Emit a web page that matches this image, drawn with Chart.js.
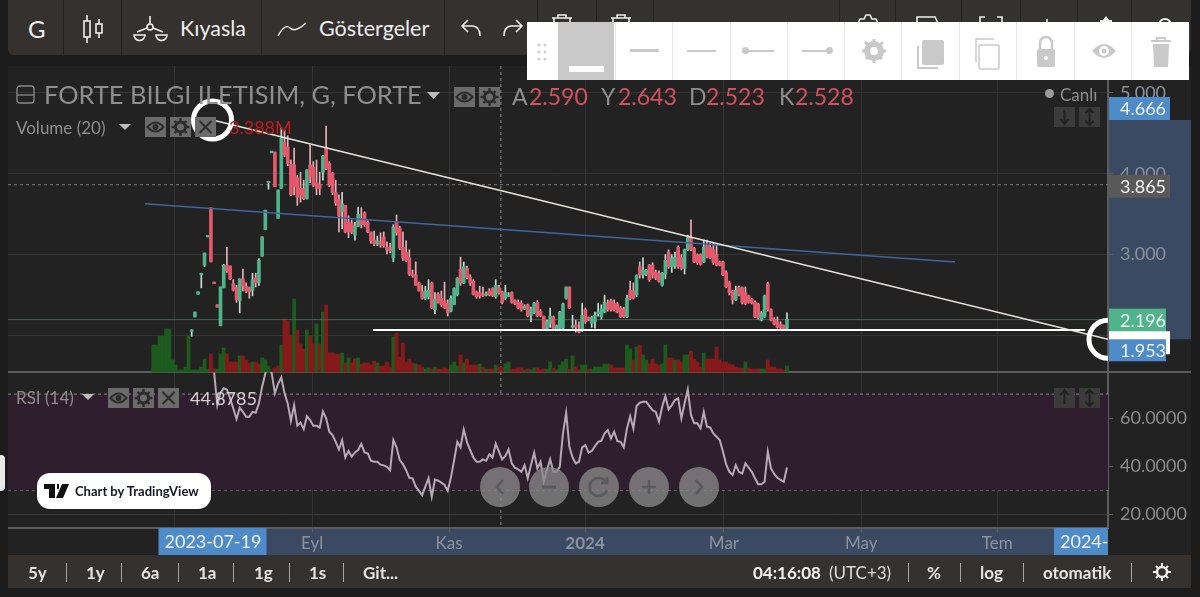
<!DOCTYPE html>
<html>
<head>
<meta charset="utf-8">
<title>FORTE</title>
<script src="https://cdn.jsdelivr.net/npm/chart.js@4"></script>
<style>
    html, body { margin: 0; padding: 0; background: #1c1b1b; overflow: hidden; }
    #wrap { position: relative; width: 1200px; height: 597px; font-family: Lato, sans-serif; }
    #chart { position: absolute; left: 0; top: 0; }
    #overlay { position: absolute; left: 0; top: 0; width: 1200px; height: 597px; pointer-events: none; }
    .t { position: absolute; white-space: nowrap; line-height: 1; transform: translateY(-50%); }
    .box { position: absolute; }
    .btn { position: absolute; width: 21px; height: 20px; background: #6b6b6b; }
    .btn svg, .nav svg, .cell svg { position: absolute; left: 0; top: 0; width: 100%; height: 100%; }
    .nav { position: absolute; width: 40px; height: 40px; margin: -20px 0 0 -20px; border-radius: 50%; background: rgba(136,136,136,.78); }
    .cell { position: absolute; top: 22px; height: 58px; border-left: 1px solid #e6e6e6; }
    .sep { position: absolute; top: 563px; width: 1px; height: 19px; background: #a8a6a4; }
    .tb { position: absolute; top: 0; height: 55px; border-right: 1px solid #242220; }
</style>
</head>
<body>
<div id="wrap">
    <canvas id="chart" width="1200" height="597"></canvas>
    <div id="overlay">
        <svg width="0" height="0" style="position:absolute">
            <symbol id="eye" viewBox="0 0 20 20"><path d="M2 10q8-9 16 0q-8 9-16 0z" fill="none" stroke="#2c2c2c" stroke-width="2"/><circle cx="10" cy="10" r="3" fill="#2c2c2c"/></symbol>
            <symbol id="gear" viewBox="0 0 20 20"><circle cx="10" cy="10" r="5" fill="none" stroke="#2c2c2c" stroke-width="3"/><path d="M10 1v4M10 15v4M1 10h4M15 10h4M4 4l3 3M13 13l3 3M16 4l-3 3M7 13l-3 3" stroke="#2c2c2c" stroke-width="2.4"/></symbol>
            <symbol id="cross" viewBox="0 0 20 20"><path d="M4 4l12 12M16 4L4 16" stroke="#2c2c2c" stroke-width="2"/></symbol>
        </svg>

        <!-- top toolbar -->
        <div class="box" style="left:8px;top:0;width:1183px;height:55px;background:#35312f;border-radius:0 0 6px 6px"></div>
        <div class="tb" style="left:8px;width:55px"></div>
        <div class="tb" style="left:64px;width:57px"></div>
        <div class="tb" style="left:122px;width:139px"></div>
        <div class="tb" style="left:262px;width:182px"></div>
        <div class="tb" style="left:445px;width:92px"></div>
        <div class="tb" style="left:538px;width:58px"></div>
        <div class="tb" style="left:597px;width:56px"></div>
        <div class="tb" style="left:654px;width:185px"></div>
        <div class="tb" style="left:840px;width:55px"></div>
        <div class="tb" style="left:896px;width:65px"></div>
        <div class="tb" style="left:962px;width:58px"></div>
        <div class="tb" style="left:1021px;width:56px"></div>
        <div class="tb" style="left:1078px;width:53px"></div>
        <span class="t" style="left:28px;top:29px;font-size:24px;color:#f0f0f0">G</span>
        <svg class="box" style="left:80px;top:14px" width="26" height="30" fill="none" stroke="#eee" stroke-width="1.6"><rect x="4" y="7" width="6" height="16"/><path d="M7 1v6M7 23v6"/><rect x="16" y="10" width="6" height="9"/><path d="M19 5v5M19 19v5"/></svg>
        <svg class="box" style="left:133px;top:14px" width="36" height="30" fill="none" stroke="#eee" stroke-width="1.6"><circle cx="17" cy="13" r="3"/><path d="M17 2v8M4 18l10-4M30 18l-10-4M1 21a5.500 5.500 0 0 0 11 0zM23 21a5.500 5.500 0 0 0 11 0z"/></svg>
        <span class="t" style="left:180px;top:29px;font-size:21.5px;color:#eeeeee">Kıyasla</span>
        <svg class="box" style="left:277px;top:20px" width="30" height="18" fill="none" stroke="#eee" stroke-width="1.4"><path d="M1 16Q8 3 13 8T29 3"/></svg>
        <span class="t" style="left:319px;top:29px;font-size:21.5px;color:#eeeeee">Göstergeler</span>
        <svg class="box" style="left:460px;top:18px" width="22" height="20" fill="none" stroke="#eee" stroke-width="1.6"><path d="M8 2L2 8l6 6M2 8h11q7 1 7 10"/></svg>
        <svg class="box" style="left:502px;top:18px" width="22" height="20" fill="none" stroke="#eee" stroke-width="1.6"><path d="M14 2l6 6-6 6M20 8H9q-7 1-7 10"/></svg>
        <svg class="box" style="left:551px;top:13px" width="22" height="12" fill="none" stroke="#eee" stroke-width="1.6"><path d="M1 5h20M7 5V2h8v3M3 5v7M19 5v7"/></svg>
        <svg class="box" style="left:610px;top:13px" width="22" height="12" fill="none" stroke="#eee" stroke-width="1.6"><path d="M1 5h20M7 5V2h8v3M3 5v7M19 5v7"/></svg>
        <svg class="box" style="left:855px;top:13px" width="26" height="12" fill="none" stroke="#eee" stroke-width="1.6"><path d="M2 12l3-6h4l2-4h4l2 4h4l3 6"/></svg>
        <svg class="box" style="left:915px;top:16px" width="26" height="9" fill="none" stroke="#eee" stroke-width="1.6"><path d="M2 9V1h18l4 8"/></svg>
        <svg class="box" style="left:978px;top:16px" width="26" height="9" fill="none" stroke="#eee" stroke-width="1.6"><path d="M2 9V1h5M19 1h5v8"/></svg>
        <svg class="box" style="left:1044px;top:19px" width="6" height="6" fill="none" stroke="#eee" stroke-width="1.6"><path d="M3 0v6"/></svg>
        <svg class="box" style="left:1098px;top:16px" width="16" height="9" fill="#eee"><path d="M8 0l3 4h3v5H2V4h3z"/></svg>
        <svg class="box" style="left:1157px;top:16px" width="16" height="9" fill="none" stroke="#eee" stroke-width="2"><path d="M2 9a6 6 0 0 1 12 0"/></svg>

        <!-- drawing toolbar -->
        <div class="box" style="left:527px;top:22px;width:662px;height:58px;background:#fff"></div>
        <svg class="box" style="left:537px;top:42px" width="10" height="20" fill="#cfcfcf"><circle cx="2" cy="3" r="1.500"/><circle cx="8" cy="3" r="1.500"/><circle cx="2" cy="10" r="1.500"/><circle cx="8" cy="10" r="1.500"/><circle cx="2" cy="17" r="1.500"/><circle cx="8" cy="17" r="1.500"/></svg>
        <div class="box" style="left:558px;top:22px;width:56px;height:58px;background:#c9c9c9"></div>
        <div class="box" style="left:569px;top:66px;width:35px;height:6px;background:#fff"></div>
        <div class="cell" style="left:615px;width:57px"><div class="box" style="left:14px;top:27px;width:29px;height:3px;background:#c9c9c9"></div></div>
        <div class="cell" style="left:672px;width:57px"><div class="box" style="left:14px;top:28px;width:29px;height:2px;background:#c9c9c9"></div></div>
        <div class="cell" style="left:730px;width:57px"><div class="box" style="left:14px;top:28px;width:29px;height:2px;background:#c9c9c9"></div><div class="box" style="left:11px;top:25px;width:7px;height:7px;background:#c9c9c9;border-radius:50%"></div></div>
        <div class="cell" style="left:787px;width:57px"><div class="box" style="left:14px;top:28px;width:29px;height:2px;background:#c9c9c9"></div><div class="box" style="left:38px;top:25px;width:7px;height:7px;background:#c9c9c9;border-radius:50%"></div></div>
        <div class="cell" style="left:844px;width:57px"><svg viewBox="0 0 57 58" fill="none" stroke="#c9c9c9"><circle cx="29" cy="29" r="7" stroke-width="6"/><path d="M29 17v24M17 29h24M20 20l18 18M38 20L20 38" stroke-width="3" stroke-dasharray="4 16"/></svg></div>
        <div class="cell" style="left:901px;width:58px"><svg viewBox="0 0 58 58"><rect x="20" y="18" width="22" height="25" rx="2" fill="#c9c9c9"/><path d="M16 24v22h20" fill="none" stroke="#c9c9c9" stroke-width="2"/></svg></div>
        <div class="cell" style="left:959px;width:57px"><svg viewBox="0 0 57 58" fill="none" stroke="#c9c9c9" stroke-width="1.500"><rect x="19" y="23" width="20" height="24" rx="1"/><path d="M16 40V17h18"/></svg></div>
        <div class="cell" style="left:1016px;width:58px"><svg viewBox="0 0 58 58"><path d="M23 27v-6a6 6 0 0 1 12 0v6" fill="none" stroke="#c9c9c9" stroke-width="2.500"/><rect x="20" y="27" width="18" height="18" rx="2" fill="#c9c9c9"/><circle cx="29" cy="36" r="2" fill="#fff"/></svg></div>
        <div class="cell" style="left:1074px;width:57px"><svg viewBox="0 0 57 58"><path d="M17 29q12-14 24 0q-12 14-24 0z" fill="#c9c9c9"/><circle cx="29" cy="29" r="5" fill="#fff"/><circle cx="29" cy="29" r="2.500" fill="#c9c9c9"/></svg></div>
        <div class="cell" style="left:1131px;width:57px"><svg viewBox="0 0 57 58"><path d="M19 19h20M25 19v-3h8v3" fill="none" stroke="#c9c9c9" stroke-width="2"/><path d="M21 22h16l-1 23H22z" fill="#c9c9c9"/></svg></div>

        <!-- main legend -->
        <svg class="box" style="left:16px;top:85px" width="20" height="19" fill="none" stroke="#8a8a8a" stroke-width="1.300"><rect x="1" y="1" width="17" height="17" rx="3"/><path d="M1 10h17"/></svg>
        <span class="t" style="left:44px;top:95px;font-size:25.4px;color:#8e8e8e">FORTE BILGI ILETISIM, G, FORTE</span>
        <svg class="box" style="left:427px;top:92px" width="13" height="7"><path d="M0 0h13L6.500 7z" fill="#bdbdbd"/></svg>
        <div class="btn" style="left:454px;top:87px"><svg><use href="#eye"/></svg></div>
        <div class="btn" style="left:479px;top:87px"><svg><use href="#gear"/></svg></div>
        <span class="t" style="left:512px;top:96px;font-size:23px;color:#8e8e8e">A</span>
        <span class="t" style="left:529px;top:96px;font-size:23px;color:#d3505f">2.590</span>
        <span class="t" style="left:601px;top:96px;font-size:23px;color:#8e8e8e">Y</span>
        <span class="t" style="left:618px;top:96px;font-size:23px;color:#d3505f">2.643</span>
        <span class="t" style="left:689px;top:96px;font-size:23px;color:#8e8e8e">D</span>
        <span class="t" style="left:706px;top:96px;font-size:23px;color:#d3505f">2.523</span>
        <span class="t" style="left:779px;top:96px;font-size:23px;color:#8e8e8e">K</span>
        <span class="t" style="left:795px;top:96px;font-size:23px;color:#d3505f">2.528</span>
        <div class="box" style="left:1045px;top:89px;width:9px;height:9px;border-radius:50%;background:#9a9a9a"></div>
        <span class="t" style="left:1060px;top:94px;font-size:17px;color:#8e8e8e">Canlı</span>
        <div class="btn" style="left:1054px;top:107px;background:#3b3b3b"><svg viewBox="0 0 20 20"><path d="M10 3v13M6 12l4 5 4-5" fill="none" stroke="#222" stroke-width="2"/></svg></div>
        <div class="btn" style="left:1079px;top:107px;background:#3b3b3b"><svg viewBox="0 0 20 20"><path d="M10 2v16M6 6l4-4 4 4M6 14l4 4 4-4" fill="none" stroke="#222" stroke-width="2"/></svg></div>

        <!-- volume legend -->
        <span class="t" style="left:16px;top:127px;font-size:17px;color:#8e8e8e">Volume (20)</span>
        <svg class="box" style="left:119px;top:124px" width="12" height="6"><path d="M0 0h12L6 6z" fill="#bdbdbd"/></svg>
        <div class="btn" style="left:145px;top:117px"><svg><use href="#eye"/></svg></div>
        <div class="btn" style="left:170px;top:117px"><svg><use href="#gear"/></svg></div>
        <div class="btn" style="left:195px;top:117px"><svg><use href="#cross"/></svg></div>
        <span class="t" style="left:229px;top:127px;font-size:18px;color:#c01a1a">3.388M</span>

        <!-- RSI legend -->
        <span class="t" style="left:16px;top:397px;font-size:17px;color:#8e8e8e">RSI (14)</span>
        <svg class="box" style="left:82px;top:394px" width="12" height="6"><path d="M0 0h12L6 6z" fill="#bdbdbd"/></svg>
        <div class="btn" style="left:108px;top:388px"><svg><use href="#eye"/></svg></div>
        <div class="btn" style="left:133px;top:388px"><svg><use href="#gear"/></svg></div>
        <div class="btn" style="left:158px;top:388px"><svg><use href="#cross"/></svg></div>
        <span class="t" style="left:190px;top:398px;font-size:18px;color:#d0d0d0">44.8785</span>
        <div class="btn" style="left:1054px;top:388px;background:#3b3b3b"><svg viewBox="0 0 20 20"><path d="M10 3v13M6 7l4-5 4 5" fill="none" stroke="#222" stroke-width="2"/></svg></div>
        <div class="btn" style="left:1079px;top:388px;background:#3b3b3b"><svg viewBox="0 0 20 20"><path d="M10 2v16M6 6l4-4 4 4M6 14l4 4 4-4" fill="none" stroke="#222" stroke-width="2"/></svg></div>

        <!-- tradingview badge -->
        <div class="box" style="left:0;top:455px;width:5px;height:36px;background:#e8e8e8;border-radius:0 4px 4px 0"></div>
        <div class="box" style="left:37px;top:473px;width:174px;height:36px;background:#fff;border-radius:13px"></div>
        <svg class="box" style="left:44px;top:484px" width="25" height="14"><path d="M0 0h11v14H5V5H0zM13 0h2v5h-2zM18 0h7l-6 14h-7z" fill="#111"/></svg>
        <span class="t" style="left:75px;top:491px;font-size:13px;font-weight:700;color:#131722">Chart by TradingView</span>

        <!-- nav buttons -->
        <div class="nav" style="left:500px;top:487px"><svg viewBox="0 0 40 40"><path d="M23 13l-6 7 6 7" fill="none" stroke="#5a5a5a" stroke-width="2.500"/></svg></div>
        <div class="nav" style="left:549px;top:487px"><svg viewBox="0 0 40 40"><path d="M13 20h14" fill="none" stroke="#5a5a5a" stroke-width="3"/></svg></div>
        <div class="nav" style="left:599px;top:487px"><svg viewBox="0 0 40 40"><path d="M27 15a9 9 0 1 0 1 8M28 10v6h-6" fill="none" stroke="#5a5a5a" stroke-width="2.500"/></svg></div>
        <div class="nav" style="left:649px;top:487px"><svg viewBox="0 0 40 40"><path d="M13 20h14M20 13v14" fill="none" stroke="#5a5a5a" stroke-width="2.500"/></svg></div>
        <div class="nav" style="left:699px;top:487px"><svg viewBox="0 0 40 40"><path d="M17 13l6 7-6 7" fill="none" stroke="#5a5a5a" stroke-width="2.500"/></svg></div>

        <!-- bottom bar -->
        <div class="box" style="left:8px;top:555px;width:1183px;height:33px;background:#35312f"></div>
        <span class="t" style="left:28px;top:572px;font-size:17px;font-weight:700;color:#e4e4e4">5y</span>
        <div class="sep" style="left:66px"></div>
        <span class="t" style="left:86px;top:572px;font-size:17px;font-weight:700;color:#e4e4e4">1y</span>
        <div class="sep" style="left:121px"></div>
        <span class="t" style="left:141px;top:572px;font-size:17px;font-weight:700;color:#e4e4e4">6a</span>
        <div class="sep" style="left:178px"></div>
        <span class="t" style="left:198px;top:572px;font-size:17px;font-weight:700;color:#e4e4e4">1a</span>
        <div class="sep" style="left:233px"></div>
        <span class="t" style="left:254px;top:572px;font-size:17px;font-weight:700;color:#e4e4e4">1g</span>
        <div class="sep" style="left:289px"></div>
        <span class="t" style="left:309px;top:572px;font-size:17px;font-weight:700;color:#e4e4e4">1s</span>
        <div class="sep" style="left:343px"></div>
        <span class="t" style="left:363px;top:572px;font-size:17px;font-weight:700;color:#e4e4e4">Git...</span>
        <span class="t" style="left:753px;top:572px;font-size:17px;font-weight:700;color:#f2f2f2">04:16:08</span>
        <span class="t" style="left:829px;top:572px;font-size:17px;color:#dddddd">(UTC+3)</span>
        <div class="sep" style="left:908px"></div>
        <span class="t" style="left:927px;top:572px;font-size:17px;font-weight:700;color:#e4e4e4">%</span>
        <div class="sep" style="left:960px"></div>
        <span class="t" style="left:980px;top:572px;font-size:17px;font-weight:700;color:#e4e4e4">log</span>
        <div class="sep" style="left:1023px"></div>
        <span class="t" style="left:1043px;top:572px;font-size:17px;font-weight:700;color:#e4e4e4">otomatik</span>
        <div class="sep" style="left:1131px"></div>
        <svg class="box" style="left:1152px;top:562px" width="20" height="20" viewBox="0 0 20 20"><circle cx="10" cy="10" r="5" fill="none" stroke="#eee" stroke-width="2.500"/><path d="M10 1v4M10 15v4M1 10h4M15 10h4M4 4l3 3M13 13l3 3M16 4l-3 3M7 13l-3 3" stroke="#eee" stroke-width="2"/></svg>
    </div>
</div>

<script>
// Bars sit one per trading day, x index 0 is the first visible volume bar
const firstCandle = 12;
const firstRsi = 19;

const opens = [
    2.05, 2.23, 2.51, 2.75, 2.87, 3.22, 3.58, 2.66, 2.38, 2.12,
    2.59, 2.87, 2.86, 2.64, 2.59, 2.43, 2.70, 2.61, 2.59, 2.56,
    2.71, 2.66, 2.98, 3.31, 3.89, 4.26, 4.27, 3.45, 3.82, 4.39,
    4.33, 4.12, 4.11, 3.95, 3.82, 3.82, 3.69, 4.11, 4.08, 3.89,
    3.87, 4.02, 4.32, 4.13, 4.01, 3.77, 3.68, 3.53, 3.61, 3.40,
    3.39, 3.24, 3.35, 3.45, 3.52, 3.40, 3.28, 3.18, 3.13, 3.16,
    3.22, 3.09, 3.09, 2.96, 3.40, 3.33, 3.09, 3.03, 2.96, 2.76,
    2.75, 2.65, 2.54, 2.46, 2.48, 2.65, 2.32, 2.51, 2.46, 2.43,
    2.40, 2.30, 2.38, 2.50, 2.82, 2.65, 2.83, 2.72, 2.67, 2.54,
    2.53, 2.50, 2.50, 2.55, 2.58, 2.48, 2.59, 2.54, 2.46, 2.48,
    2.53, 2.43, 2.41, 2.40, 2.33, 2.38, 2.25, 2.28, 2.41, 2.30,
    2.24, 2.08, 2.15, 2.23, 2.08, 2.09, 2.09, 2.46, 2.60, 2.10,
    2.13, 2.08, 2.07, 2.32, 2.22, 2.15, 2.17, 2.27, 2.23, 2.29,
    2.40, 2.43, 2.40, 2.39, 2.34, 2.33, 2.23, 2.56, 2.55, 2.50,
    2.85, 2.75, 2.76, 2.87, 2.87, 2.78, 2.77, 2.62, 2.76, 3.03,
    2.85, 2.86, 3.09, 2.97, 2.83, 3.06, 3.21, 3.08, 3.00, 3.00,
    2.91, 3.12, 3.09, 3.06, 3.00, 2.91, 2.91, 2.78, 2.65, 2.55,
    2.44, 2.59, 2.59, 2.53, 2.49, 2.45, 2.41, 2.39, 2.19, 2.23,
    2.64, 2.32, 2.20, 2.17, 2.14, 2.12, 2.09
];
const closes = [
    2.07, 2.29, 2.54, 2.77, 3.02, 3.24, 2.91, 2.64, 2.35, 2.60,
    2.87, 2.80, 2.70, 2.56, 2.44, 2.70, 2.61, 2.55, 2.54, 2.69,
    2.65, 2.93, 3.22, 3.55, 3.90, 4.28, 3.84, 3.80, 4.44, 4.23,
    4.13, 3.74, 3.84, 3.71, 3.74, 3.69, 4.05, 3.96, 3.86, 3.82,
    3.82, 4.22, 4.07, 3.86, 3.77, 3.64, 3.48, 3.63, 3.28, 3.28,
    3.28, 3.35, 3.50, 3.37, 3.37, 3.28, 3.17, 3.14, 3.17, 3.12,
    3.11, 3.06, 3.05, 3.34, 3.27, 3.08, 2.96, 2.93, 2.76, 2.74,
    2.62, 2.55, 2.46, 2.55, 2.56, 2.34, 2.45, 2.41, 2.38, 2.34,
    2.28, 2.46, 2.58, 2.71, 2.65, 2.85, 2.72, 2.65, 2.51, 2.48,
    2.49, 2.49, 2.51, 2.50, 2.49, 2.62, 2.53, 2.41, 2.53, 2.49,
    2.41, 2.39, 2.34, 2.32, 2.36, 2.24, 2.32, 2.40, 2.24, 2.24,
    2.08, 2.17, 2.24, 2.09, 2.12, 2.29, 2.39, 2.60, 2.34, 2.12,
    2.10, 2.04, 2.25, 2.17, 2.19, 2.22, 2.25, 2.28, 2.33, 2.41,
    2.32, 2.32, 2.32, 2.29, 2.23, 2.23, 2.46, 2.46, 2.46, 2.74,
    2.75, 2.81, 2.81, 2.69, 2.75, 2.71, 2.67, 2.77, 2.93, 2.85,
    2.96, 2.97, 2.85, 2.83, 3.06, 3.21, 3.06, 2.91, 2.90, 2.88,
    3.09, 2.97, 2.96, 2.90, 2.87, 2.87, 2.75, 2.60, 2.53, 2.44,
    2.56, 2.50, 2.41, 2.39, 2.41, 2.40, 2.23, 2.22, 2.28, 2.49,
    2.32, 2.19, 2.14, 2.10, 2.09, 2.08, 2.20
];
const highs = [
    2.07, 2.29, 2.54, 2.77, 3.02, 3.24, 3.58, 2.66, 2.38, 2.60,
    2.88, 3.09, 2.86, 2.69, 2.62, 2.70, 2.82, 2.65, 2.60, 2.77,
    2.77, 2.95, 3.22, 3.55, 3.90, 4.28, 4.27, 3.80, 4.57, 4.54,
    4.47, 4.17, 4.32, 3.98, 4.02, 3.92, 4.05, 4.36, 4.15, 4.17,
    4.02, 4.23, 4.59, 4.15, 4.02, 3.92, 3.74, 3.77, 3.61, 3.48,
    3.43, 3.40, 3.59, 3.58, 3.53, 3.42, 3.28, 3.29, 3.23, 3.27,
    3.28, 3.16, 3.14, 3.37, 3.49, 3.35, 3.28, 3.17, 3.06, 2.81,
    2.91, 2.66, 2.62, 2.61, 2.69, 2.66, 2.53, 2.53, 2.55, 2.66,
    2.44, 2.49, 2.59, 2.72, 2.97, 2.91, 2.86, 2.75, 2.69, 2.55,
    2.61, 2.60, 2.54, 2.58, 2.59, 2.69, 2.62, 2.55, 2.62, 2.53,
    2.54, 2.44, 2.44, 2.43, 2.38, 2.39, 2.35, 2.41, 2.43, 2.32,
    2.24, 2.19, 2.34, 2.24, 2.13, 2.30, 2.40, 2.60, 2.60, 2.25,
    2.19, 2.17, 2.40, 2.34, 2.23, 2.24, 2.29, 2.40, 2.38, 2.50,
    2.44, 2.45, 2.44, 2.41, 2.36, 2.35, 2.50, 2.67, 2.65, 2.75,
    2.91, 2.96, 2.82, 2.88, 2.90, 2.81, 2.80, 2.78, 3.00, 3.06,
    3.00, 3.03, 3.11, 3.00, 3.07, 3.24, 3.43, 3.09, 3.01, 3.01,
    3.18, 3.18, 3.14, 3.14, 3.12, 2.92, 2.92, 2.80, 2.67, 2.56,
    2.61, 2.61, 2.60, 2.60, 2.50, 2.46, 2.43, 2.40, 2.30, 2.50,
    2.66, 2.33, 2.22, 2.23, 2.17, 2.13, 2.28
];
const lows = [
    1.99, 2.23, 2.51, 2.59, 2.85, 3.22, 2.91, 2.64, 2.35, 2.12,
    2.59, 2.78, 2.69, 2.55, 2.41, 2.28, 2.55, 2.53, 2.46, 2.49,
    2.60, 2.62, 2.98, 3.31, 3.81, 4.26, 3.84, 3.45, 3.82, 4.21,
    4.10, 3.73, 3.74, 3.61, 3.65, 3.68, 3.69, 3.89, 3.84, 3.74,
    3.74, 3.92, 4.05, 3.84, 3.74, 3.61, 3.28, 3.32, 3.27, 3.21,
    3.26, 3.18, 3.35, 3.33, 3.35, 3.27, 3.14, 3.11, 3.11, 3.09,
    3.09, 3.01, 3.02, 2.91, 3.24, 3.06, 2.93, 2.91, 2.74, 2.72,
    2.62, 2.55, 2.45, 2.44, 2.45, 2.33, 2.27, 2.40, 2.36, 2.33,
    2.24, 2.29, 2.38, 2.49, 2.62, 2.64, 2.70, 2.62, 2.50, 2.46,
    2.46, 2.48, 2.49, 2.49, 2.48, 2.46, 2.51, 2.39, 2.44, 2.48,
    2.40, 2.38, 2.33, 2.30, 2.32, 2.23, 2.17, 2.27, 2.23, 2.23,
    2.07, 2.07, 2.10, 2.08, 2.07, 2.08, 2.08, 2.45, 2.33, 2.09,
    2.04, 2.03, 2.05, 2.15, 2.18, 2.10, 2.09, 2.24, 2.20, 2.28,
    2.30, 2.30, 2.30, 2.28, 2.22, 2.22, 2.22, 2.44, 2.45, 2.48,
    2.71, 2.71, 2.74, 2.67, 2.71, 2.69, 2.66, 2.61, 2.70, 2.83,
    2.78, 2.83, 2.83, 2.81, 2.76, 3.05, 3.05, 2.90, 2.88, 2.87,
    2.90, 2.96, 2.95, 2.88, 2.86, 2.86, 2.74, 2.59, 2.50, 2.39,
    2.43, 2.49, 2.39, 2.38, 2.40, 2.39, 2.22, 2.20, 2.18, 2.22,
    2.30, 2.18, 2.13, 2.09, 2.08, 2.07, 2.08
];
// In millions
const volumes = [
    27, 27, 36, 36, 43, 43, 12, 7, 2, 2, 5, 36,
    2, 2, 2, 5, 13, 3, 18, 3, 3, 18,
    24, 18, 10, 10, 10, 16, 16, 12, 9, 10,
    10, 8, 14, 12, 6, 1, 4, 6, 27, 53,
    51, 36, 73, 42, 28, 23, 42, 36, 28, 48,
    28, 60, 67, 19, 19, 18, 18, 19, 9, 14,
    9, 13, 14, 8, 9, 9, 7, 11, 9, 6,
    6, 10, 5, 35, 39, 15, 29, 10, 13, 9,
    8, 7, 5, 3, 4, 3, 5, 3, 3, 4,
    3, 7, 10, 6, 17, 9, 13, 7, 7, 7,
    8, 5, 3, 3, 3, 7, 5, 4, 8, 10,
    3, 3, 4, 4, 2, 3, 2, 4, 4, 2,
    3, 3, 10, 4, 2, 7, 10, 13, 3, 16,
    5, 2, 7, 7, 3, 3, 5, 5, 5, 8,
    8, 7, 4, 4, 4, 4, 27, 23, 12, 25,
    27, 17, 12, 8, 13, 8, 7, 8, 27, 14,
    14, 12, 12, 10, 17, 17, 21, 13, 10, 5,
    19, 13, 13, 13, 25, 12, 10, 10, 8, 7,
    5, 4, 4, 10, 4, 3, 3, 3, 3, 3,
    12, 5, 5, 3, 3, 2, 6
];
const greenVolumeBars = [
    0, 1, 2, 3, 4, 5, 6, 7, 8, 9, 10, 11,
    12, 13, 14, 15, 16, 17, 20, 21, 22, 27, 31, 34, 35, 36, 40, 44, 48, 51, 53, 59, 61, 64, 70,
    75, 82, 85, 86, 88, 93, 94, 95, 97, 102, 104, 107, 110, 111, 116, 118, 119, 123, 124, 126,
    127, 128, 129, 131, 134, 135, 137, 138, 139, 140, 141, 142, 148, 149, 151, 153, 154, 159,
    160, 163, 166, 167, 172, 185, 190, 191, 198
];
const rsiValues = [
    78.9, 65.4, 70.6, 72.4, 71.9, 68.2, 64.0, 59.6, 64.3, 62.6,
    60.6, 60.6, 62.6, 62.2, 66.1, 73.1, 78.6, 82.8, 78.6, 70.3,
    74.4, 76.9, 70.3, 66.1, 58.8, 65.4, 56.8, 58.1, 55.4, 60.8,
    59.2, 56.8, 56.8, 56.1, 62.8, 59.9, 54.3, 52.9, 50.1, 46.9,
    50.8, 43.6, 46.3, 43.9, 45.7, 46.7, 49.2, 45.7, 45.3, 42.2,
    41.8, 41.8, 40.6, 40.3, 39.7, 38.3, 50.8, 47.8, 42.5, 40.8,
    38.3, 35.1, 34.9, 31.4, 29.7, 27.9, 31.4, 34.9, 27.2, 34.4,
    33.9, 33.1, 32.1, 29.7, 35.3, 42.5, 50.1, 47.8, 55.3, 50.1,
    46.7, 43.6, 41.8, 41.8, 42.8, 42.2, 44.9, 43.6, 49.4, 46.0,
    42.8, 44.2, 46.9, 41.1, 39.3, 38.6, 37.6, 40.4, 34.9, 40.4,
    45.6, 39.0, 41.8, 33.5, 38.3, 42.8, 37.6, 37.6, 39.7, 53.6,
    62.2, 48.1, 43.6, 41.1, 41.8, 47.8, 48.8, 45.6, 46.3, 48.3,
    50.1, 50.6, 53.6, 55.0, 51.5, 54.3, 50.4, 50.1, 47.8, 55.7,
    60.8, 55.7, 65.0, 66.4, 66.8, 66.8, 65.0, 63.3, 62.6, 58.5,
    64.7, 69.2, 63.6, 65.4, 67.5, 68.2, 59.9, 66.1, 71.9, 61.3,
    57.8, 57.8, 55.7, 62.6, 56.4, 56.1, 53.6, 52.2, 50.8, 46.0,
    40.7, 37.6, 36.3, 40.4, 37.6, 36.9, 41.1, 39.4, 37.6, 34.9,
    32.4, 32.4, 33.5, 46.0, 39.0, 36.7, 35.1, 34.2, 33.5, 39.4
];

// Month ticks and their labels, the first one sits under the date tag
const monthTicks = [6.47, 49.6, 92.4, 134.9, 178.3, 221.2, 263.7];
const monthLabels = ["", "Eyl", "Kas", "2024", "Mar", "May", "Tem"];
const priceTicks = [5, 4, 3, 2];
const rsiTicks = [60, 40, 20];

// Drawn trend lines, x in bar index
const xMin = -45.4;
const xMax = 298.3;
const selectedTrend = [{ x: 18.5, y: 4.666 }, { x: xMax, y: 1.953 }];
const blueTrend = [{ x: -2.6, y: 3.63 }, { x: 250.5, y: 2.91 }];
const supportLine = [{ x: 68.7, y: 2.068 }, { x: 291.2, y: 2.068 }];
const lastPriceLine = [{ x: xMin, y: 2.196 }, { x: xMax, y: 2.196 }];
const crosshairPrice = [{ x: xMin, y: 3.865 }, { x: xMax, y: 3.865 }];
const crosshairBar = 108.6;
const rsiUpper = [{ x: xMin, y: 70 }, { x: xMax, y: 70 }];
const rsiLower = [{ x: xMin, y: 30 }, { x: xMax, y: 30 }];

const rangeStartBar = 18.5;
const rangeEndBar = xMax;
const rangeHigh = 4.666;
const rangeLow = 1.953;

const upColor = "#4fb48b";
const downColor = "#e6586b";

const candlePoints = (a, b) => opens.map((_, i) => ({ x: i + firstCandle, y: [a[i], b[i]] }));
const isUp = (i) => closes[i] >= opens[i];

// Axis highlights go under the labels, the tags go over them
const axisOverlay = {
    id: "axisOverlay",
    beforeDraw(chart) {
        const { ctx, scales } = chart;
        const { x, price } = scales;
        ctx.save();
        ctx.fillStyle = "#232222";
        ctx.fillRect(8, 66, 1183, 489);
        ctx.fillStyle = "#3a4a62";
        ctx.fillRect(x.getPixelForValue(rangeStartBar), x.bottom - 27, x.getPixelForValue(rangeEndBar) - x.getPixelForValue(rangeStartBar), 27);
        ctx.fillRect(price.left, price.getPixelForValue(rangeHigh), 83, price.getPixelForValue(rangeLow) - price.getPixelForValue(rangeHigh));
        ctx.restore();
    },
    beforeDatasetsDraw(chart) {
        const { ctx, scales, chartArea } = chart;
        const dividerY = scales.rsi.top;
        ctx.save();
        ctx.strokeStyle = "#5c5c5c";
        ctx.lineWidth = 2;
        ctx.beginPath();
        ctx.moveTo(chartArea.left, dividerY);
        ctx.lineTo(1191, dividerY);
        ctx.moveTo(chartArea.left, chartArea.bottom);
        ctx.lineTo(chartArea.right, chartArea.bottom);
        ctx.stroke();
        ctx.strokeStyle = "#8a8a8a";
        ctx.lineWidth = 1;
        ctx.setLineDash([3, 3]);
        const cx = scales.x.getPixelForValue(crosshairBar);
        ctx.beginPath();
        ctx.moveTo(cx, chartArea.top);
        ctx.lineTo(cx, chartArea.bottom);
        ctx.stroke();
        ctx.restore();
    },
    afterDraw(chart) {
        const { ctx, scales } = chart;
        const { x, price } = scales;
        const tag = (left, top, w, h, bg, label, pad = 11) => {
            ctx.fillStyle = bg;
            ctx.fillRect(left, top, w, h);
            ctx.fillStyle = "#f2f2f2";
            ctx.font = "18px Lato";
            ctx.textBaseline = "middle";
            ctx.textAlign = "left";
            ctx.fillText(label, left + pad, top + h / 2 + 1);
        };
        ctx.save();
        const left = price.left + 1;
        tag(left, price.getPixelForValue(4.666) - 23, 61, 23, "#4d8bc9", "4.666");
        tag(left, price.getPixelForValue(3.865) - 10, 61, 23, "#5a5959", "3.865");
        tag(left, price.getPixelForValue(2.196) - 11, 57, 24, upColor, "2.196");
        ctx.fillStyle = "#ffffff";
        ctx.fillRect(left, price.getPixelForValue(rangeLow) - 8, 61, 23);
        tag(left, price.getPixelForValue(1.953), 57, 22, "#4d8bc9", "1.953");

        // The end tag runs past the plot edge and gets cut there
        const startX = x.getPixelForValue(rangeStartBar);
        const endX = x.getPixelForValue(rangeEndBar);
        const tagTop = x.bottom - 27;
        tag(startX - 54, tagTop, 108, 27, "#4d8bc9", "2023-07-19", 6);
        ctx.beginPath();
        ctx.rect(endX - 54, tagTop, 54, 27);
        ctx.clip();
        tag(endX - 54, tagTop, 108, 27, "#4d8bc9", "2024-07-01", 6);
        ctx.restore();
    }
};

new Chart(document.getElementById("chart"), {
    type: "bar",
    plugins: [axisOverlay],
    data: {
        datasets: [
            // RSI band and lines
            { type: "line", data: rsiUpper, xAxisID: "x", yAxisID: "rsi", order: 20, borderColor: "#8a8686", borderWidth: 1, borderDash: [3, 3], pointRadius: 0, fill: "+1", backgroundColor: "#2f1f2e" },
            { type: "line", data: rsiLower, xAxisID: "x", yAxisID: "rsi", order: 20, borderColor: "#8a8686", borderWidth: 1, borderDash: [3, 3], pointRadius: 0 },
            {
                type: "line",
                data: rsiValues.map((y, i) => ({ x: i + firstRsi, y })),
                xAxisID: "x", yAxisID: "rsi", order: 5,
                borderColor: "#b8a9b6", borderWidth: 2, pointRadius: 0, tension: 0
            },
            // Volume under the candles
            {
                data: volumes.map((y, i) => ({ x: i, y })),
                xAxisID: "x", yAxisID: "volume", order: 10, grouped: false, barThickness: 3.2,
                backgroundColor: volumes.map((_, i) => (greenVolumeBars.includes(i) ? "#1c5a1d" : "#861a1a"))
            },
            // Wicks then bodies
            {
                data: candlePoints(lows, highs),
                xAxisID: "x", yAxisID: "price", order: 4, grouped: false, barThickness: 1,
                backgroundColor: opens.map((_, i) => (isUp(i) ? "#c4dfd3" : "#e9b0b8"))
            },
            {
                data: candlePoints(opens, closes),
                xAxisID: "x", yAxisID: "price", order: 3, grouped: false, barThickness: 3, minBarLength: 1.5,
                backgroundColor: opens.map((_, i) => (isUp(i) ? upColor : downColor))
            },
            // Trend lines and crosshair
            { type: "line", data: lastPriceLine, xAxisID: "x", yAxisID: "price", order: 9, borderColor: "#4d5f55", borderWidth: 1, pointRadius: 0 },
            { type: "line", data: crosshairPrice, xAxisID: "x", yAxisID: "price", order: 9, borderColor: "#7a7a7a", borderWidth: 1, borderDash: [3, 3], pointRadius: 0 },
            { type: "line", data: blueTrend, xAxisID: "x", yAxisID: "price", order: 2, borderColor: "#41659f", borderWidth: 1.5, pointRadius: 0 },
            { type: "line", data: supportLine, xAxisID: "x", yAxisID: "price", order: 2, borderColor: "#ffffff", borderWidth: 2, pointRadius: 0 },
            {
                type: "line", data: selectedTrend, xAxisID: "x", yAxisID: "price", order: 1,
                borderColor: "#e8e4dc", borderWidth: 1.5,
                pointRadius: 19, pointBorderWidth: 5, pointBorderColor: "#ffffff", pointBackgroundColor: "rgba(0,0,0,0)"
            }
        ]
    },
    options: {
        responsive: false,
        animation: false,
        events: [],
        layout: { autoPadding: false, padding: { left: 8, top: 66, right: 9, bottom: 42 } },
        plugins: { legend: { display: false }, tooltip: { enabled: false } },
        scales: {
            x: {
                type: "linear", min: xMin, max: xMax, position: "bottom", offset: false,
                afterBuildTicks: (axis) => { axis.ticks = monthTicks.map((value) => ({ value })); },
                afterFit: (axis) => { axis.height = 27; },
                grid: { offset: false, color: "#353434", lineWidth: 1, tickLength: 4, tickColor: "#5c5c5c" },
                border: { display: false },
                ticks: {
                    autoSkip: false, maxRotation: 0, padding: 1,
                    color: "#8c939d",
                    font: (c) => ({ family: "Lato", size: 17, weight: c.index === 3 ? "bold" : "normal" }),
                    callback: (value) => monthLabels[monthTicks.indexOf(value)]
                }
            },
            price: {
                type: "linear", position: "right", stack: "panes", stackWeight: 306,
                min: 1.548, max: 5.334,
                afterBuildTicks: (axis) => { axis.ticks = priceTicks.map((value) => ({ value })); },
                afterFit: (axis) => { axis.width = 83; },
                grid: { color: "#353434", tickLength: 5, tickColor: "#5c5c5c" },
                border: { color: "#5c5c5c", width: 2 },
                ticks: { padding: 7, color: "#8c939d", font: { family: "Lato", size: 18 }, callback: (v) => v.toFixed(3) }
            },
            rsi: {
                type: "linear", position: "right", stack: "panes", stackWeight: 156,
                min: 14.2, max: 79.2,
                afterBuildTicks: (axis) => { axis.ticks = rsiTicks.map((value) => ({ value })); },
                afterFit: (axis) => { axis.width = 83; },
                grid: { color: "#3f3a3e", tickLength: 5, tickColor: "#5c5c5c" },
                border: { color: "#5c5c5c", width: 2 },
                ticks: { padding: 7, color: "#8c8c8c", font: { family: "Lato", size: 18 }, callback: (v) => v.toFixed(4) }
            },
            // Zero sits on the divider between the two panes
            volume: { type: "linear", display: false, position: "left", min: -156, max: 306 }
        }
    }
});
</script>
</body>
</html>
